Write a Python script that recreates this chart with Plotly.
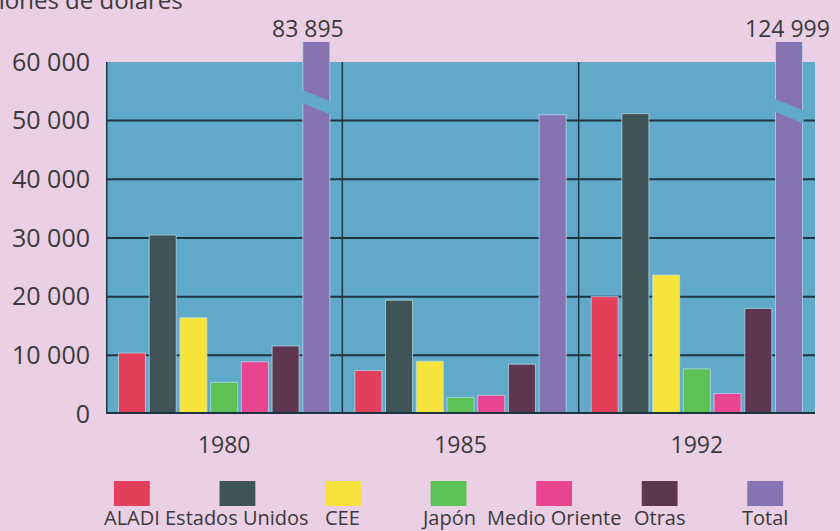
import plotly.graph_objects as go

# exportaciones por destino, millones de dolares
years = ["1980", "1985", "1992"]
destinos = ["ALADI", "Estados Unidos", "CEE", "Japón", "Medio Oriente", "Otras", "Total"]

aladi = [10400, 7400, 20000]
estados_unidos = [30500, 19400, 51200]
cee = [16400, 9000, 23700]
japon = [5400, 2800, 7700]
medio_oriente = [8900, 3200, 3500]
otras = [11600, 8500, 18000]
total = [83895, 51000, 124999]

series = [aladi, estados_unidos, cee, japon, medio_oriente, otras, total]
colors = ["#e2405a", "#3e5457", "#f6e43c", "#5dc255", "#e8448f", "#5f3651", "#8574b1"]

PINK = "#eacfe5"
BLUE = "#60a9c9"
DARK = "#1f3442"
TEXT = "#3a3a3a"
FONT = "Open Sans"

Y_TOP = 60000
Y_MAX = 63400
BARGAP = 0.09
GROUPGAP = 0.12

xs = list(range(len(years)))

fig = go.Figure()
for name, vals, col in zip(destinos, series, colors):
    fig.add_trace(go.Bar(
        x=xs, y=vals, name=name,
        marker=dict(color=col, line=dict(color="rgba(190,225,238,0.7)", width=1)),
        showlegend=False,
    ))

shapes = []
# fondo azul del area de datos (hasta 60 000)
shapes.append(dict(type="rect", xref="x", yref="y", x0=-0.5, x1=len(years) - 0.5,
                   y0=0, y1=Y_TOP, fillcolor=BLUE, line_width=0, layer="below"))
for v in range(10000, Y_TOP, 10000):
    shapes.append(dict(type="line", xref="x", yref="y", x0=-0.5, x1=len(years) - 0.5,
                       y0=v, y1=v, line=dict(color=DARK, width=2), layer="below"))
for i in range(1, len(years)):
    shapes.append(dict(type="line", xref="x", yref="y", x0=i - 0.5, x1=i - 0.5,
                       y0=0, y1=Y_TOP, line=dict(color=DARK, width=1.5), layer="below"))
# ejes
shapes.append(dict(type="line", xref="x", yref="y", x0=-0.5, x1=-0.5, y0=0, y1=Y_TOP,
                   line=dict(color=DARK, width=3)))
shapes.append(dict(type="line", xref="x", yref="y", x0=-0.5, x1=len(years) - 0.5, y0=0, y1=0,
                   line=dict(color=DARK, width=4)))

# corte en las barras de total que salen de escala
n = len(destinos)
slot = (1 - BARGAP) / n
bw = slot * (1 - GROUPGAP)
t_off = -(1 - BARGAP) / 2 + (n - 0.5) * slot
break_level = [54100, None, 52600]
for i, lvl in enumerate(break_level):
    if lvl is None:
        continue
    xl = i + t_off - bw / 2 - 0.005
    xr = i + t_off + bw / 2 + 0.005
    path = (f"M {xl},{lvl + 1150} L {xr},{lvl - 900} L {xr},{lvl - 3100} "
            f"L {xl},{lvl - 1050} Z")
    shapes.append(dict(type="path", xref="x", yref="y", path=path,
                       fillcolor=BLUE, line_width=0))

annotations = []
for i, v in enumerate(total):
    if v > Y_TOP:
        annotations.append(dict(
            x=i + t_off, xref="x", y=1.038, yref="paper",
            text=f"{v:,}".replace(",", " "), showarrow=False,
            font=dict(size=23, color=TEXT, family=FONT),
            xanchor="center", yanchor="middle",
            xshift=-8 if i == 0 else -2))

annotations.append(dict(x=0.111, xref="paper", y=1.115, yref="paper",
                        text="Millones de dólares", showarrow=False,
                        font=dict(size=24, color=TEXT, family=FONT),
                        xanchor="right", yanchor="middle"))

# leyenda manual: cuadro de color con etiqueta debajo
W = 712.0
H = 372.0
for k, (name, col) in enumerate(zip(destinos, colors)):
    cx = 129 + 106 * k
    shapes.append(dict(type="rect", xref="paper", yref="paper",
                       x0=(cx - 18 - 103) / W, x1=(cx + 18 - 103) / W,
                       y0=(414 - 506) / H, y1=(414 - 481) / H,
                       fillcolor=col, line_width=0))
    annotations.append(dict(x=(cx - 103) / W, xref="paper", y=(414 - 517) / H, yref="paper",
                            text=name, showarrow=False,
                            font=dict(size=20, color=TEXT, family=FONT),
                            xanchor="center", yanchor="middle", borderpad=0))

fig.update_layout(
    width=840, height=531,
    margin=dict(l=103, r=25, t=42, b=117),
    paper_bgcolor=PINK, plot_bgcolor=PINK,
    barmode="group", bargap=BARGAP, bargroupgap=GROUPGAP,
    separators=", ",
    shapes=shapes, annotations=annotations,
    font=dict(family=FONT, color=TEXT),
    xaxis=dict(range=[-0.5, len(years) - 0.5], tickvals=xs, ticktext=years,
               showgrid=False, zeroline=False, showline=False, ticks="",
               ticklabelstandoff=15, tickfont=dict(size=23, color=TEXT)),
    yaxis=dict(range=[0, Y_MAX], tickvals=list(range(0, Y_TOP + 1, 10000)),
               tickformat=",d", showgrid=False, zeroline=False, showline=False,
               ticks="", ticklabelstandoff=15, tickfont=dict(size=25, color=TEXT)),
)

fig.write_html("out.html", config={"displayModeBar": False},
               post_script="document.body.style.margin='0';document.body.style.overflow='hidden';")
